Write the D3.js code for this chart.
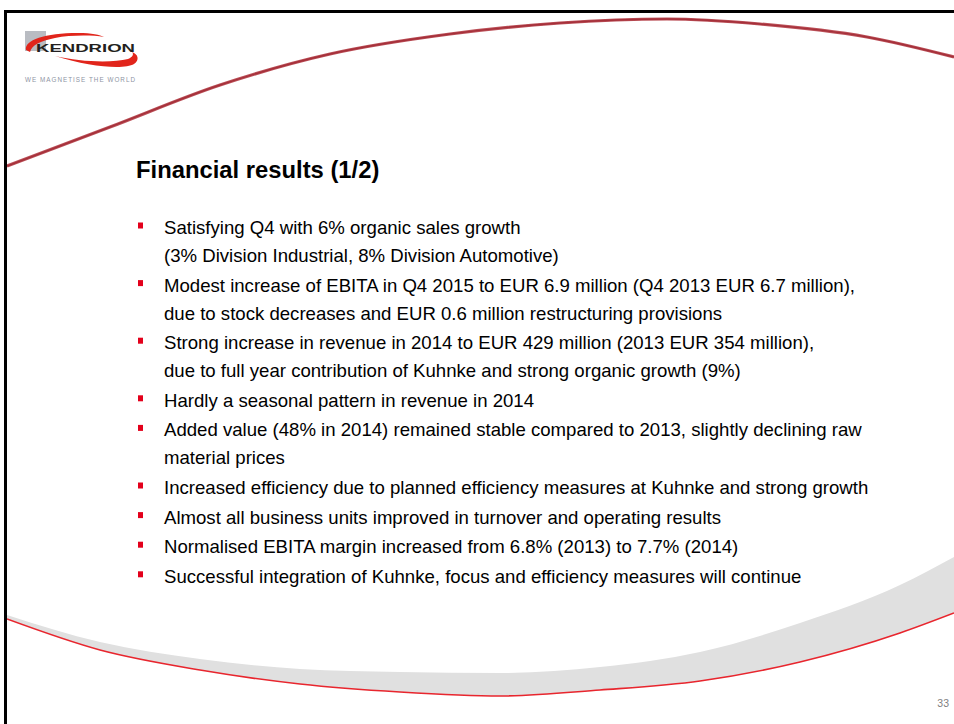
<!DOCTYPE html>
<html>
<head>
<meta charset="utf-8">
<script src="https://cdn.jsdelivr.net/npm/d3@7"></script>
<style>
  body { margin: 0; background: #fff; }
  svg { display: block; font-family: Arial, "Liberation Sans", sans-serif; }
</style>
</head>
<body>
<div id="slide"></div>
<script>
// slide text
const title = "Financial results (1/2)";
const bullets = [
    ["Satisfying Q4 with 6% organic sales growth", "(3% Division Industrial, 8% Division Automotive)"],
    ["Modest increase of EBITA in Q4 2015 to EUR 6.9 million (Q4 2013 EUR 6.7 million),", "due to stock decreases and EUR 0.6 million restructuring provisions"],
    ["Strong increase in revenue in 2014 to EUR 429 million (2013 EUR 354 million),", "due to full year contribution of Kuhnke and strong organic growth (9%)"],
    ["Hardly a seasonal pattern in revenue in 2014"],
    ["Added value (48% in 2014) remained stable compared to 2013, slightly declining raw", "material prices"],
    ["Increased efficiency due to planned efficiency measures at Kuhnke and strong growth"],
    ["Almost all business units improved in turnover and operating results"],
    ["Normalised EBITA margin increased from 6.8% (2013) to 7.7% (2014)"],
    ["Successful integration of Kuhnke, focus and efficiency measures will continue"]
];
const pageNumber = "33";

// decorative swooshes
const topArcX = [7, 110, 220, 330, 450, 560, 667, 760, 867, 954];
const topArcY = [166, 127, 85, 54, 34, 23, 19, 24, 37, 57];
const bottomX = [7, 100, 200, 300, 400, 500, 600, 700, 800, 900, 954];
const bottomGreyY = [615, 642, 659, 669, 672, 673, 667, 652, 623, 585, 557];
const bottomRedY = [619, 650, 670, 684, 692, 696, 690, 681, 662, 633, 613];

const width = 954, height = 724;

const svg = d3.select("#slide")
    .append("svg")
    .attr("width", width)
    .attr("height", height);

// clip everything to the inside of the frame
svg.append("clipPath").attr("id", "inside")
    .append("rect").attr("x", 7).attr("y", 13).attr("width", width).attr("height", height);

const deco = svg.append("g").attr("clip-path", "url(#inside)");

// bottom grey crescent with red edge
const area = d3.area()
    .x((d, i) => bottomX[i])
    .y0((d, i) => bottomRedY[i])
    .y1((d, i) => bottomGreyY[i])
    .curve(d3.curveMonotoneX);

deco.append("path")
    .attr("d", area(bottomX))
    .attr("fill", "#e0e0e0");

const redLine = d3.line()
    .x((d, i) => bottomX[i])
    .y((d, i) => bottomRedY[i])
    .curve(d3.curveMonotoneX);

deco.append("path")
    .attr("d", redLine(bottomX))
    .attr("fill", "none")
    .attr("stroke", "#e8262e")
    .attr("stroke-width", 1.6);

// top maroon arc
const arcLine = d3.line()
    .x((d, i) => topArcX[i])
    .y((d, i) => topArcY[i])
    .curve(d3.curveMonotoneX);

deco.append("path")
    .attr("d", arcLine(topArcX))
    .attr("fill", "none")
    .attr("stroke", "#bb5058")
    .attr("stroke-width", 3.2);

deco.append("path")
    .attr("d", arcLine(topArcX))
    .attr("fill", "none")
    .attr("stroke", "#a5303a")
    .attr("stroke-width", 1.4);

// frame (top and left edges)
svg.append("rect").attr("x", 4).attr("y", 10).attr("width", width - 4).attr("height", 3).attr("fill", "#000");
svg.append("rect").attr("x", 4).attr("y", 10).attr("width", 3).attr("height", height - 10).attr("fill", "#000");

// logo
const logo = svg.append("g");
logo.append("rect")
    .attr("x", 25).attr("y", 31).attr("width", 21).attr("height", 20)
    .attr("fill", "#b9bcc2");
// upper swoosh
logo.append("path")
    .attr("d", "M26,50 C24,40 45,33 78,33 C92,33 100,35 104,37 C92,35 70,35 55,38 C40,41 32,45 30,52 Z")
    .attr("fill", "#e1251b");
// lower swoosh
logo.append("path")
    .attr("d", "M55,56 C80,62 112,63 128,59 C133,57 134,54 132,52 C138,54 140,60 134,64 C124,70 90,67 55,56 Z")
    .attr("fill", "#e1251b");
logo.append("text")
    .attr("x", 36).attr("y", 52)
    .attr("font-size", 11.5).attr("font-weight", "bold")
    .attr("textLength", 99).attr("lengthAdjust", "spacingAndGlyphs")
    .attr("fill", "#231f20")
    .text("KENDRION");
logo.append("text")
    .attr("x", 25).attr("y", 82)
    .attr("font-size", 6.3)
    .attr("textLength", 110).attr("lengthAdjust", "spacing")
    .attr("fill", "#8e94a3")
    .text("WE MAGNETISE THE WORLD");

// title
svg.append("text")
    .attr("x", 136).attr("y", 178)
    .attr("font-size", 23.8).attr("font-weight", "bold")
    .attr("fill", "#000")
    .text(title);

// bullets
const lineStep = 28, bulletStep = 29.6;
let y = 234;
const rows = [];
bullets.forEach((b, bi) => {
    if (bi > 0) y += bulletStep;
    b.forEach((line, li) => {
        if (li > 0) y += lineStep;
        rows.push({ text: line, y, first: li === 0 });
    });
});

const body = svg.append("g");
body.selectAll("rect")
    .data(rows.filter(d => d.first))
    .join("rect")
    .attr("x", 138).attr("y", d => d.y - 11.5)
    .attr("width", 5).attr("height", 6)
    .attr("fill", "#e3001b");

body.selectAll("text")
    .data(rows)
    .join("text")
    .attr("x", 164).attr("y", d => d.y)
    .attr("font-size", 18.6)
    .attr("fill", "#000")
    .text(d => d.text);

// page number
svg.append("text")
    .attr("x", 949).attr("y", 707)
    .attr("text-anchor", "end")
    .attr("font-size", 10.5)
    .attr("fill", "#7f7f7f")
    .text(pageNumber);
</script>
</body>
</html>
